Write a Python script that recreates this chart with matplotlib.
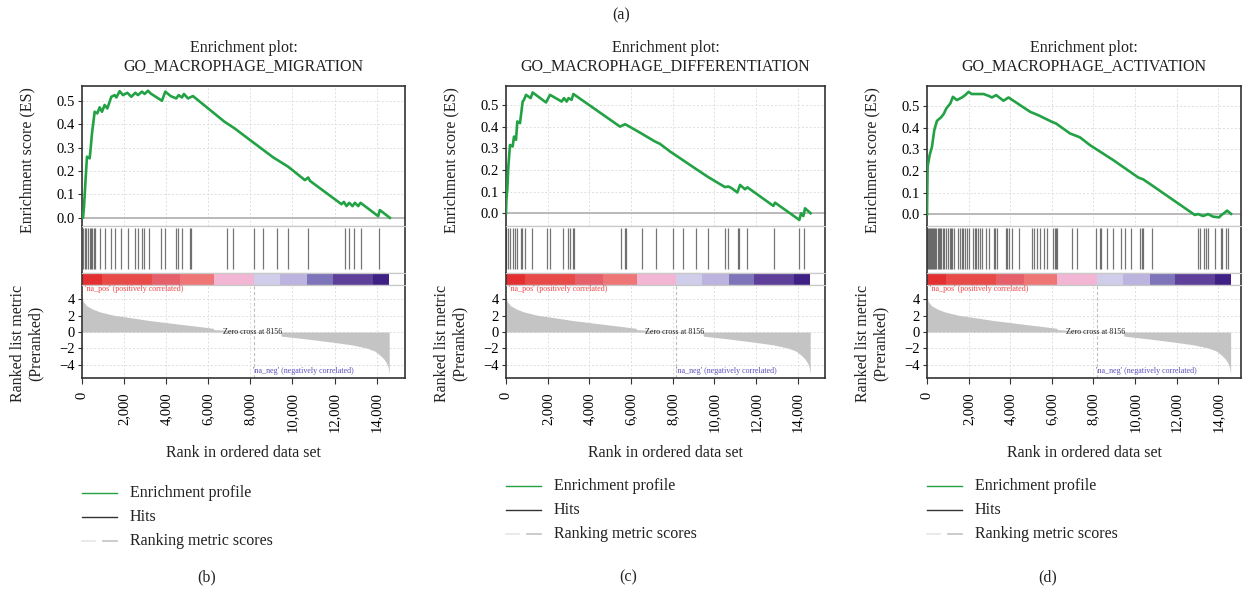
import matplotlib
matplotlib.use('Agg')
import matplotlib.pyplot as plt
from matplotlib.lines import Line2D

plt.rcParams['font.family'] = ['Liberation Serif', 'DejaVu Serif']

# === DATA ===
# running enrichment score, read as (rank, ES) knots
MIG_ES_RANK = [0, 47, 95, 206, 238, 364, 412, 475, 602, 728, 839, 950, 1077, 1203, 1393, 1552,
               1631, 1789, 1948, 2153, 2343, 2533, 2660, 2850, 2977, 3135, 3262, 3452, 3800, 3958,
               4212, 4481, 4592, 4750, 4845, 5035, 5273, 6777, 7252, 7885, 9088, 9801, 10593,
               10751, 10830, 12334, 12445, 12572, 12698, 12857, 12968, 13126, 13237, 14076, 14155, 14630]
MIG_ES = [0.0, 0.0, 0.047, 0.218, 0.261, 0.254, 0.296, 0.361, 0.453, 0.446, 0.472, 0.453, 0.482,
          0.467, 0.517, 0.524, 0.514, 0.541, 0.524, 0.534, 0.517, 0.534, 0.524, 0.539, 0.529, 0.543,
          0.531, 0.520, 0.500, 0.539, 0.520, 0.510, 0.524, 0.514, 0.529, 0.510, 0.520, 0.410, 0.382,
          0.339, 0.258, 0.218, 0.161, 0.172, 0.158, 0.058, 0.068, 0.050, 0.064, 0.050, 0.064, 0.050,
          0.064, 0.007, 0.033, 0.0]
MIG_HITS = [63, 127, 190, 285, 364, 412, 475, 570, 633, 839, 1077, 1362, 1583, 1868, 2185, 2533,
            2660, 2850, 2945, 3167, 3768, 3958, 4481, 4560, 4750, 5114, 5162, 6903, 7172, 8186,
            8613, 9247, 9769, 10720, 12493, 12698, 12936, 13237, 14108]

DIFF_ES_RANK = [0, 20, 64, 112, 192, 320, 384, 480, 544, 672, 800, 864, 960, 1184, 1280, 1920, 2112,
                2672, 2784, 2912, 3000, 3150, 3232, 5472, 5712, 5872, 6432, 7152, 7392, 7872, 9072,
                9712, 10512, 10672, 10832, 11104, 11232, 11472, 11584, 12832, 12912, 14080, 14160,
                14272, 14352, 14620]
DIFF_ES = [0.0, 0.062, 0.115, 0.216, 0.316, 0.309, 0.355, 0.340, 0.425, 0.417, 0.517, 0.525, 0.548,
           0.533, 0.559, 0.513, 0.548, 0.517, 0.533, 0.517, 0.533, 0.525, 0.552, 0.401, 0.412, 0.404,
           0.373, 0.332, 0.321, 0.286, 0.208, 0.167, 0.121, 0.124, 0.116, 0.096, 0.131, 0.111, 0.120,
           0.034, 0.049, -0.031, 0.0, -0.013, 0.023, 0.0]
DIFF_HITS = [10, 112, 192, 320, 432, 512, 704, 784, 912, 1232, 1952, 2112, 2720, 2960, 3072, 3200,
             3264, 5504, 5712, 5760, 6512, 7200, 8032, 8480, 9104, 9712, 10512, 10672, 11152, 11200,
             11584, 12880, 14080, 14304]

ACT_ES_RANK = [0, 15, 30, 126, 238, 350, 478, 670, 798, 926, 1118, 1246, 1438, 1678, 1838, 1998,
               2150, 2398, 2718, 3006, 3118, 3326, 3678, 3918, 4158, 4958, 5358, 5998, 6206, 6878,
               7358, 7838, 8958, 10158, 10398, 10798, 12878, 13038, 13278, 13518, 13758, 14046,
               14158, 14270, 14430, 14620]
ACT_ES = [0.0, 0.112, 0.22, 0.273, 0.311, 0.388, 0.431, 0.447, 0.462, 0.488, 0.511, 0.542, 0.527,
          0.539, 0.550, 0.565, 0.555, 0.555, 0.555, 0.545, 0.539, 0.550, 0.524, 0.539, 0.524, 0.473,
          0.457, 0.427, 0.419, 0.373, 0.355, 0.319, 0.250, 0.170, 0.161, 0.135, -0.003, 0.001,
          -0.008, 0.001, -0.011, -0.014, -0.003, 0.004, 0.017, 0.002]
ACT_HITS = [10, 46, 94, 142, 190, 238, 286, 334, 398, 446, 510, 574, 638, 686, 750, 830, 894, 990,
            1086, 1150, 1214, 1278, 1470, 1566, 1662, 1726, 1806, 1918, 2030, 2206, 2286, 2366,
            2462, 2558, 2654, 2846, 2958, 3230, 3294, 3358, 3806, 3870, 3934, 4078, 4446, 5054,
            5150, 5278, 5438, 5630, 5758, 6078, 6142, 6206, 6238, 6958, 7198, 8126, 8318, 8366,
            8638, 8958, 9310, 9518, 9806, 10238, 10318, 10398, 10798, 13038, 13150, 13310, 13438,
            13518, 13838, 14126, 14206, 14398, 14478]

# ranked list metric (same preranked list for all three gene sets)
METRIC_RANK = [0, 60, 220, 500, 855, 1500, 2440, 3200, 4020, 4800, 5600, 6240, 6260, 7200, 8156,
               9450, 9470, 10700, 11940, 12800, 13530, 13900, 14160, 14350, 14480, 14560, 14600]
METRIC = [4.3, 3.7, 3.2, 2.8, 2.45, 2.05, 1.7, 1.4, 1.15, 0.9, 0.66, 0.45, 0.3, 0.15, 0.0,
          -0.1, -0.5, -0.85, -1.25, -1.55, -1.95, -2.3, -2.8, -3.3, -3.8, -4.4, -5.2]
ZERO_CROSS = 8156

# heat bar under the hits
BAR_EDGES = [0, 935, 3310, 4655, 6270, 8170, 9405, 10705, 11910, 13840, 14600]
BAR_COLORS = ['#e32f2f', '#e84a47', '#e5606b', '#ee7676', '#f2b6d4',
              '#cfcdea', '#bcb4de', '#7d74ba', '#5e3f9a', '#3f2186']

X_TICKS = [0, 2000, 4000, 6000, 8000, 10000, 12000, 14000]
X_TICK_LABELS = ['0', '2,000', '4,000', '6,000', '8,000', '10,000', '12,000', '14,000']
ES_TICKS = [0.0, 0.1, 0.2, 0.3, 0.4, 0.5]
METRIC_TICKS = [4, 2, 0, -2, -4]

TITLES = ['GO_MACROPHAGE_MIGRATION', 'GO_MACROPHAGE_DIFFERENTIATION', 'GO_MACROPHAGE_ACTIVATION']
LETTERS = ['(b)', '(c)', '(d)']
LEGEND_LABELS = ['Enrichment profile', 'Hits', 'Ranking metric scores']

# === LAYOUT (pixels) ===
W, H = 1243, 590
PANEL_X = [(82, 405), (506, 825), (927, 1241)]
X_MAX = [15350, 15310, 15100]
ES_LIM = [(-0.035, 0.563), (-0.059, 0.589), (-0.054, 0.592)]
LEGEND_Y = [493, 486, 486]
LETTER_X = [207, 628, 1048]
TOP, ES_BOT, HIT_BOT, BAR_BOT, BOTTOM = 86, 226, 273, 285, 378

DARK = '#333333'
LIGHT = '#c8c8c8'
GREEN = '#22a244'
TEXT = '#222222'
FS = 11.5        # titles, axis labels, legend
TICK_FS = 10.5
SMALL_FS = 5.8
GRID = dict(color='#dedede', linestyle=(0, (2, 2)), linewidth=0.7)

fig = plt.figure(figsize=(W / 100, H / 100), dpi=100)


def fx(x):
    return x / W


def fy(y):
    return 1 - y / H


def add_ax(left, right, top, bottom):
    return fig.add_axes([fx(left), fy(bottom), (right - left) / W, (bottom - top) / H])


def style_spines(ax, top, bottom):
    for side in ('left', 'right'):
        ax.spines[side].set_color(DARK)
        ax.spines[side].set_linewidth(1.2)
    ax.spines['top'].set_color(top)
    ax.spines['bottom'].set_color(bottom)
    ax.spines['top'].set_linewidth(1.2 if top == DARK else 0.9)
    ax.spines['bottom'].set_linewidth(1.2 if bottom == DARK else 0.9)


def draw_panel(i, es_rank, es, hits):
    left, right = PANEL_X[i]
    xmax = X_MAX[i]
    cx = (left + right) / 2

    ax_es = add_ax(left, right, TOP, ES_BOT)
    ax_hit = add_ax(left, right, ES_BOT, HIT_BOT)
    ax_bar = add_ax(left, right, HIT_BOT, BAR_BOT)
    ax_met = add_ax(left, right, BAR_BOT, BOTTOM)
    for ax in (ax_es, ax_hit, ax_bar, ax_met):
        ax.set_xlim(0, xmax)
        ax.set_facecolor('white')

    # enrichment profile
    ax_es.plot(es_rank, es, color=GREEN, linewidth=1.9, zorder=3)
    ax_es.axhline(0, color='#b4b4b4', linewidth=1.3, zorder=2)
    ax_es.set_ylim(*ES_LIM[i])
    ax_es.set_xticks(X_TICKS)
    ax_es.set_yticks(ES_TICKS)
    ax_es.set_yticklabels([f'{v:.1f}' for v in ES_TICKS])
    ax_es.grid(True, **GRID)
    ax_es.tick_params(axis='x', length=0, labelbottom=False)
    ax_es.tick_params(axis='y', length=3, width=0.8, color=DARK, labelsize=TICK_FS, pad=2)
    style_spines(ax_es, DARK, LIGHT)

    # hits
    ax_hit.vlines(hits, 0.085, 0.957, color='#3a3a3a', linewidth=0.9, alpha=0.7)
    ax_hit.set_ylim(0, 1)
    ax_hit.set_xticks([])
    ax_hit.set_yticks([])
    style_spines(ax_hit, LIGHT, LIGHT)

    # heat bar
    widths = [b - a for a, b in zip(BAR_EDGES[:-1], BAR_EDGES[1:])]
    ax_bar.bar(BAR_EDGES[:-1], [1] * len(widths), width=widths, align='edge',
               color=BAR_COLORS, linewidth=0)
    ax_bar.set_ylim(0, 1)
    ax_bar.set_xticks([])
    ax_bar.set_yticks([])
    style_spines(ax_bar, LIGHT, LIGHT)

    # ranked list metric
    ax_met.fill_between(METRIC_RANK, METRIC, 0, color='#c4c4c4', linewidth=0, zorder=2)
    ax_met.axvline(ZERO_CROSS, color='#c0c0c0', linestyle=(0, (3, 2)), linewidth=0.8, zorder=1)
    ax_met.set_ylim(-5.6, 5.73)
    ax_met.set_yticks(METRIC_TICKS)
    ax_met.set_xticks(X_TICKS)
    ax_met.set_xticklabels(X_TICK_LABELS, rotation=90, fontsize=TICK_FS)
    ax_met.grid(True, **GRID)
    ax_met.set_axisbelow(True)
    ax_met.tick_params(axis='y', length=3, width=0.8, color=DARK, labelsize=TICK_FS, pad=2)
    ax_met.tick_params(axis='x', length=4, width=0.8, color=DARK, pad=6)
    style_spines(ax_met, LIGHT, DARK)
    ax_met.text(130, 5.2, "'na_pos' (positively correlated)", color='#f04545',
                fontsize=SMALL_FS, ha='left', va='center', zorder=5)
    ax_met.text(8150, -4.75, "'na_neg' (negatively correlated)", color='#5a50bc',
                fontsize=SMALL_FS, ha='left', va='center')
    ax_met.text(8100, 0.05, f'Zero cross at {ZERO_CROSS}', color=TEXT,
                fontsize=SMALL_FS, ha='center', va='center', zorder=4)

    # titles and axis labels
    fig.text(fx(cx), fy(57), f'Enrichment plot:\n{TITLES[i]}', ha='center', va='center',
             fontsize=FS, linespacing=1.2, color=TEXT)
    fig.text(fx(left - 55), fy(160), 'Enrichment score (ES)', rotation=90,
             ha='center', va='center', fontsize=FS, color=TEXT)
    fig.text(fx(left - 55), fy(343), 'Ranked list metric\n(Preranked)', rotation=90,
             ha='center', va='center', fontsize=FS, linespacing=1.15, color=TEXT)
    fig.text(fx(cx), fy(453), 'Rank in ordered data set', ha='center', va='center',
             fontsize=FS, color=TEXT)

    # legend
    ly = LEGEND_Y[i]
    fig.add_artist(Line2D([fx(left), fx(left + 35)], [fy(ly), fy(ly)],
                          color=GREEN, linewidth=1.0, transform=fig.transFigure))
    fig.add_artist(Line2D([fx(left), fx(left + 35)], [fy(ly + 24), fy(ly + 24)],
                          color='#333333', linewidth=1.0, transform=fig.transFigure))
    fig.add_artist(Line2D([fx(left), fx(left + 13)], [fy(ly + 48), fy(ly + 48)],
                          color='#e6e6e6', linewidth=1.2, transform=fig.transFigure))
    fig.add_artist(Line2D([fx(left + 21), fx(left + 35)], [fy(ly + 48), fy(ly + 48)],
                          color='#c2c2c2', linewidth=1.2, transform=fig.transFigure))
    for k, label in enumerate(LEGEND_LABELS):
        fig.text(fx(left + 48), fy(ly + 24 * k), label, ha='left', va='center',
                 fontsize=FS, color=TEXT)

    fig.text(fx(LETTER_X[i]), fy(577), LETTERS[i], ha='center', va='center',
             fontsize=FS, color=TEXT)


draw_panel(0, MIG_ES_RANK, MIG_ES, MIG_HITS)
draw_panel(1, DIFF_ES_RANK, DIFF_ES, DIFF_HITS)
draw_panel(2, ACT_ES_RANK, ACT_ES, ACT_HITS)

fig.text(fx(621), fy(15), '(a)', ha='center', va='center', fontsize=FS, color=TEXT)

fig.savefig('out.png', dpi=100, facecolor='white')
